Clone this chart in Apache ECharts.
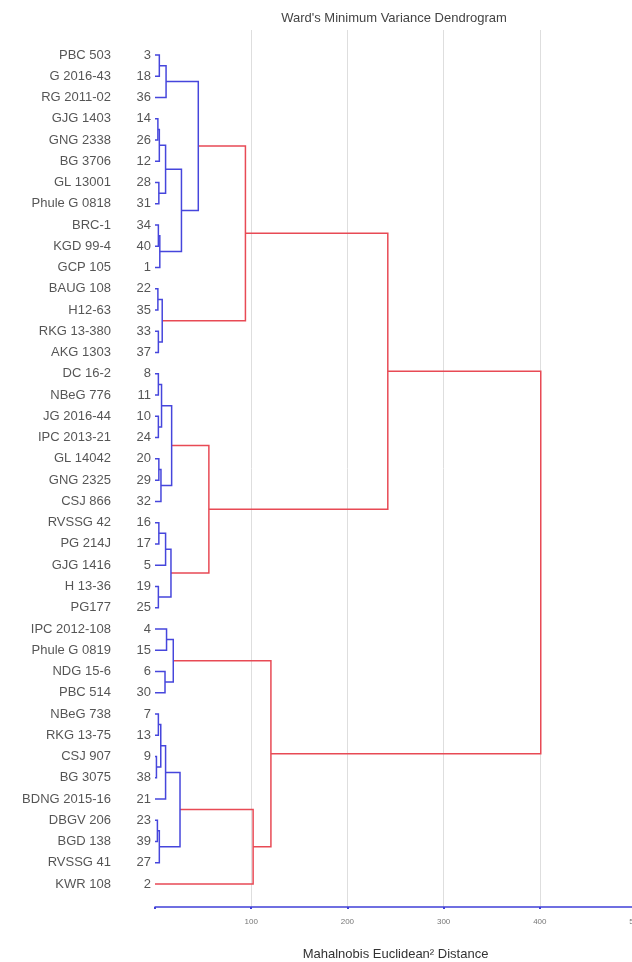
<!DOCTYPE html>
<html>
<head>
<meta charset="utf-8">
<script src="https://cdn.jsdelivr.net/npm/echarts@6/dist/echarts.min.js"></script>
<style>
html,body{margin:0;padding:0;background:#fff;}
#c{width:632px;height:962px;}
</style>
</head>
<body>
<div id="c"></div>
<script>
// Leaves in dendrogram order (top to bottom)
const leafNames = ['PBC 503','G 2016-43','RG 2011-02','GJG 1403','GNG 2338','BG 3706','GL 13001','Phule G 0818','BRC-1','KGD 99-4','GCP 105','BAUG 108','H12-63','RKG 13-380','AKG 1303','DC 16-2','NBeG 776','JG 2016-44','IPC 2013-21','GL 14042','GNG 2325','CSJ 866','RVSSG 42','PG 214J','GJG 1416','H 13-36','PG177','IPC 2012-108','Phule G 0819','NDG 15-6','PBC 514','NBeG 738','RKG 13-75','CSJ 907','BG 3075','BDNG 2015-16','DBGV 206','BGD 138','RVSSG 41','KWR 108'];
const leafIds = [3,18,36,14,26,12,28,31,34,40,1,22,35,33,37,8,11,10,24,20,29,32,16,17,5,19,25,4,15,6,30,7,13,9,38,21,23,39,27,2];

// Merges: [childA, childB, height]; positive = genotype number, negative = -(merge number)
const merges = [
  [3,18,4.5],      // -1
  [-1,36,11.5],    // -2
  [14,26,3],       // -3
  [-3,12,4.5],     // -4
  [28,31,4],       // -5
  [-4,-5,11],      // -6
  [34,40,3.5],     // -7
  [-7,1,5],        // -8
  [-6,-8,27.5],    // -9
  [-2,-9,45],      // -10
  [22,35,3],       // -11
  [33,37,3.5],     // -12
  [-11,-12,7.5],   // -13
  [-10,-13,94],    // -14
  [8,11,3.5],      // -15
  [10,24,3.5],     // -16
  [-15,-16,6.8],   // -17
  [20,29,4],       // -18
  [-18,32,6.2],    // -19
  [-17,-19,17.3],  // -20
  [16,17,4],       // -21
  [-21,5,11],      // -22
  [19,25,3.5],     // -23
  [-22,-23,16.6],  // -24
  [-20,-24,56],    // -25
  [-14,-25,242],   // -26
  [4,15,12],       // -27
  [6,30,10.4],     // -28
  [-27,-28,19],    // -29
  [7,13,3.5],      // -30
  [9,38,1.5],      // -31
  [-30,-31,6],     // -32
  [-32,21,11],     // -33
  [23,39,2.5],     // -34
  [-34,27,4.5],    // -35
  [-33,-35,26],    // -36
  [-36,2,102],     // -37
  [-29,-37,120.5], // -38
  [-26,-38,401]    // -39
];
const colorThreshold = 50;
const xTicks = [100,200,300,400,500];

// Build link polylines from the linkage
const nodePos = {};
leafIds.forEach((id,i)=>{ nodePos[id] = {x:0, y:i}; });
const blueLinks = [], redLinks = [];
merges.forEach((m,k)=>{
  const a = nodePos[m[0]], b = nodePos[m[1]], h = m[2];
  const coords = [[a.x,a.y],[h,a.y],[h,b.y],[b.x,b.y]];
  (h > colorThreshold ? redLinks : blueLinks).push({coords});
  nodePos[-(k+1)] = {x:h, y:(a.y+b.y)/2};
});

const leafData = leafIds.map((id,i)=>({value:[0,i], name:leafNames[i], id:id}));

const chart = echarts.init(document.getElementById('c'), null, {renderer:'canvas'});
chart.setOption({
  animation:false,
  backgroundColor:'#fff',
  title:{
    text:"Ward's Minimum Variance Dendrogram",
    left:389, top:7, textAlign:'center',
    textStyle:{fontFamily:'Liberation Sans, Arial, sans-serif', fontSize:13, fontWeight:'normal', color:'#444'}
  },
  grid:{left:155, top:30, width:481, height:877, containLabel:false, outerBoundsMode:'none'},
  xAxis:{
    type:'value', min:0, max:500, interval:100,
    axisLine:{show:true, onZero:false, lineStyle:{color:'#4040d8', width:1.5}},
    axisTick:{show:true, length:2, lineStyle:{color:'#4040d8', width:2}},
    axisLabel:{margin:11, fontSize:8, color:'#777', fontFamily:'Liberation Sans, Arial, sans-serif',
      formatter:v=> (xTicks.indexOf(v)>=0 ? String(v) : '')},
    splitLine:{show:true, showMinLine:false, lineStyle:{color:'#dedede', width:1}},
    name:'Mahalnobis Euclidean² Distance', nameLocation:'middle', nameGap:41,
    nameTextStyle:{fontSize:13, color:'#333', fontFamily:'Liberation Sans, Arial, sans-serif'}
  },
  yAxis:{
    type:'value', inverse:true, min:-1.176, max:40.082,
    show:false, splitLine:{show:false}
  },
  series:[
    {
      type:'lines', coordinateSystem:'cartesian2d', polyline:true, silent:true,
      lineStyle:{color:'#4646dc', width:1.5, opacity:1},
      data:blueLinks, z:3
    },
    {
      type:'lines', coordinateSystem:'cartesian2d', polyline:true, silent:true,
      lineStyle:{color:'#e84a55', width:1.5, opacity:1},
      data:redLinks, z:2
    },
    {
      type:'scatter', symbolSize:0, silent:true,
      data:leafData,
      label:{
        show:true, position:'left', distance:4,
        formatter:p=>'{a|'+p.data.name+'}{b|'+p.data.id+'}',
        rich:{
          a:{width:100, align:'right', fontSize:13, color:'#2a2a2a', fontFamily:'Liberation Sans, Arial, sans-serif'},
          b:{width:40, align:'right', fontSize:13, color:'#2a2a2a', fontFamily:'Liberation Sans, Arial, sans-serif'}
        }
      }
    }
  ]
});
</script>
</body>
</html>
